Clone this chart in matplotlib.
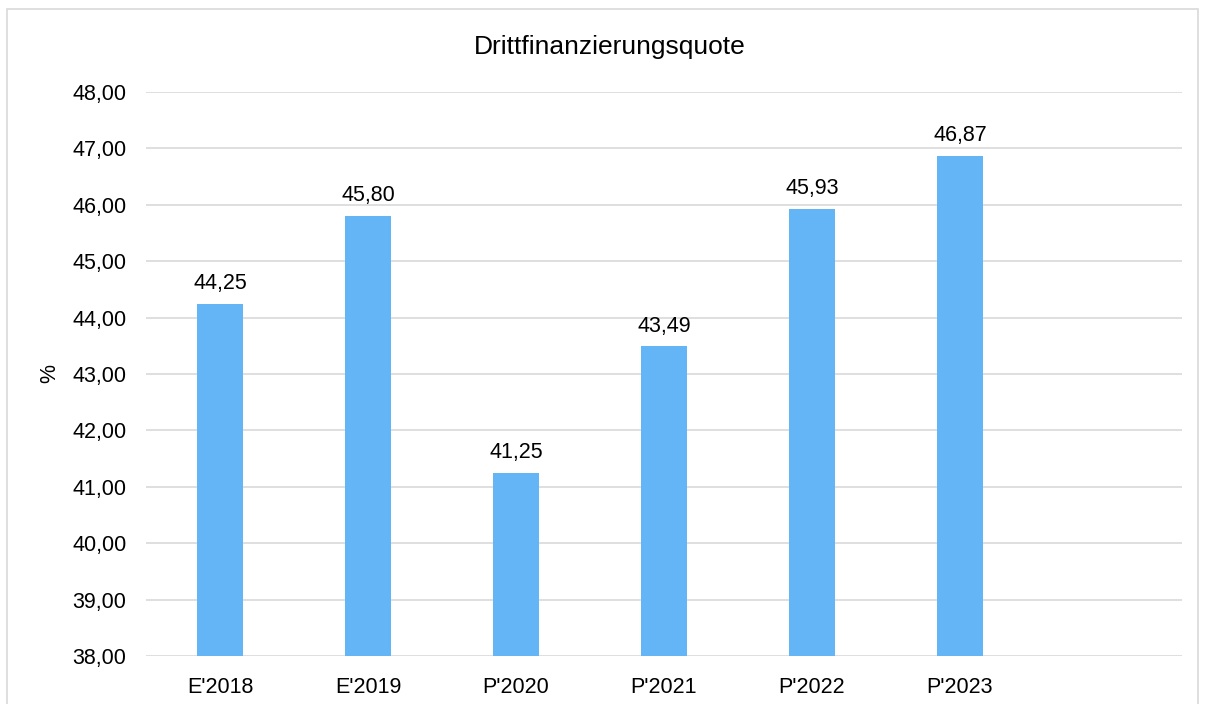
import numpy as np
import matplotlib.pyplot as plt
from matplotlib.patches import Rectangle

plt.rcParams['font.family'] = ['Liberation Sans', 'DejaVu Sans']

# Daten
kategorien = ["E'2018", "E'2019", "P'2020", "P'2021", "P'2022", "P'2023", ""]
werte = [44.25, 45.80, 41.25, 43.49, 45.93, 46.87, np.nan]

fig = plt.figure(figsize=(12.06, 7.04), dpi=100)
ax = fig.add_axes([146/1206, 1-656/704, (1182-146)/1206, (656-92)/704])

# Rahmen um das Diagramm
fig.patches.append(Rectangle((7/1206, -0.1), (1198-7)/1206, 1.1-9/704, transform=fig.transFigure,
                             fill=False, edgecolor="#d9d9d9", lw=1.2))

x = np.arange(len(kategorien))
bars = ax.bar(x, werte, width=0.31, color="#64b5f6", zorder=3)
for xi, v in zip(x, werte):
    if not np.isnan(v):
        ax.text(xi, v + 0.17, f"{v:.2f}".replace(".", ","), ha="center", va="bottom", fontsize=15.5)

ax.set_xlim(-0.5, len(kategorien) - 0.5)
ax.set_ylim(38, 48)
ax.set_yticks(np.arange(38, 49, 1))
ax.set_yticklabels([f"{t:.2f}".replace(".", ",") for t in np.arange(38, 49, 1)], fontsize=15.5)
ax.set_xticks(x)
ax.set_xticklabels(kategorien, fontsize=15.5)
ax.tick_params(length=0)
ax.tick_params(axis="x", pad=15)
ax.tick_params(axis="y", pad=14)
ax.grid(axis="y", color="#d9d9d9", lw=1.2, zorder=0)
for s in ax.spines.values():
    s.set_visible(False)
ax.set_ylabel("%", fontsize=15.5)
ax.yaxis.set_label_coords(-0.083, 0.5)
fig.text(610/1206, 1-47/704, "Drittfinanzierungsquote", ha="center", va="center", fontsize=19)

fig.savefig("out.png", dpi=100)
